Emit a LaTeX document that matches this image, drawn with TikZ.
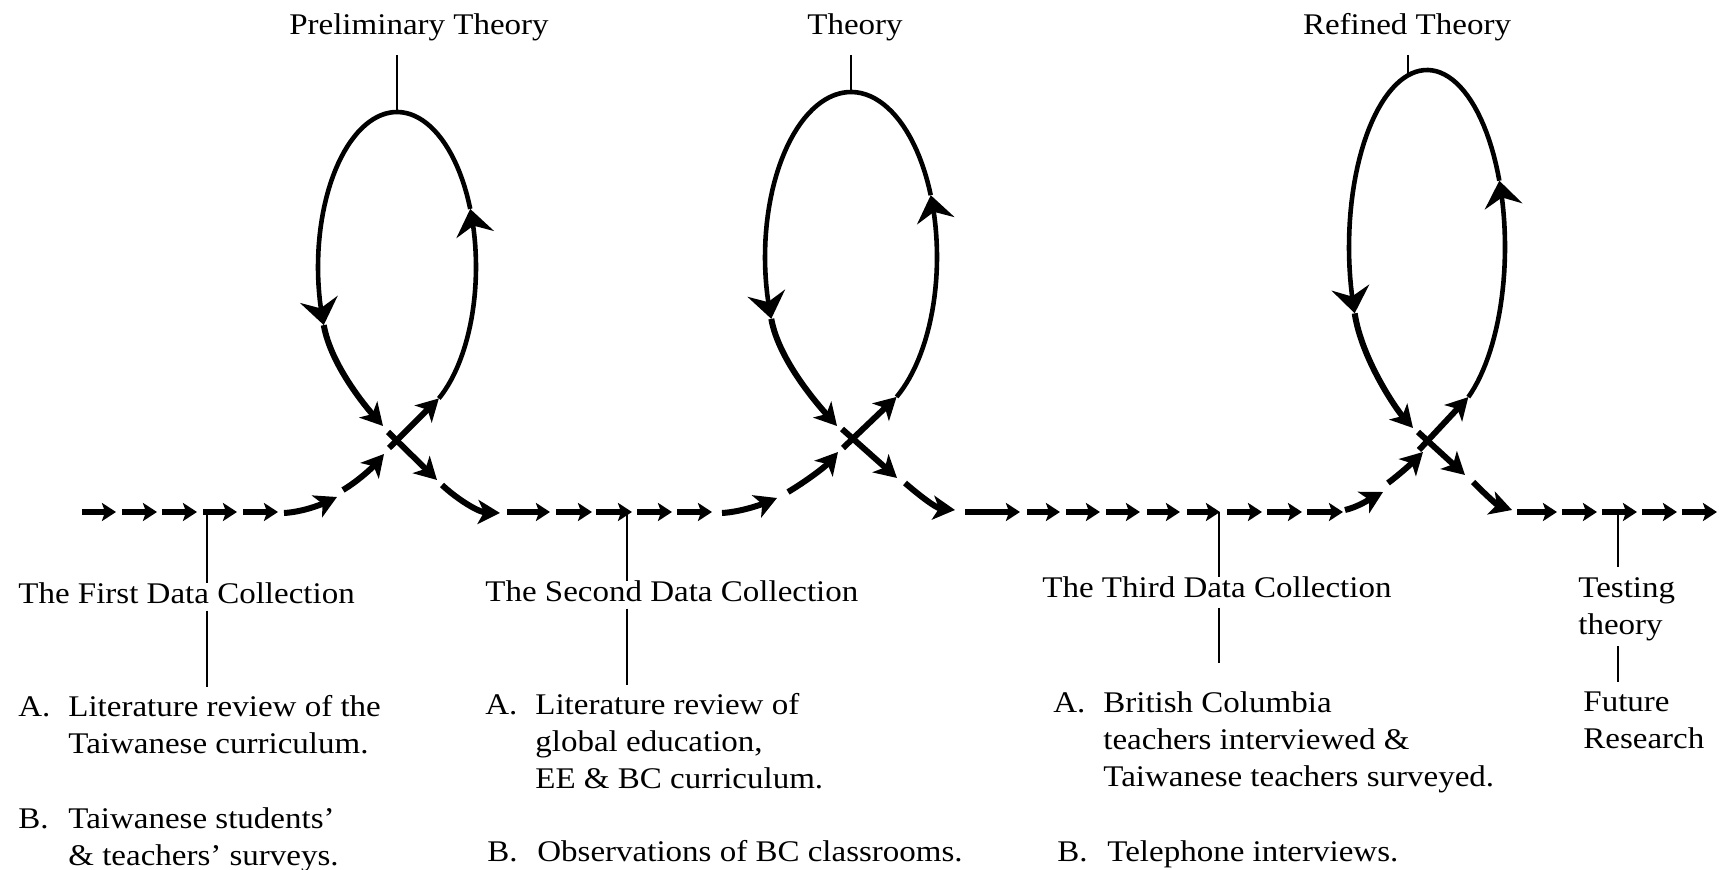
\documentclass[tikz,border=0pt]{standalone}
\usepackage{fontspec}
\setmainfont{Liberation Serif}[FakeStretch=1.1]
\usetikzlibrary{arrows.meta}

\tikzset{
  flow/.style={line width=2.6pt, -{Stealth[length=7pt, width=9pt, inset=1.5pt]}},
  swing/.style={line width=3pt, -{Stealth[length=11pt, width=12pt, inset=3pt]}},
  ring/.style={line width=2.3pt, -{Stealth[length=13pt, width=19pt, inset=4.5pt]}},
  tick/.style={line width=1pt},
  lab/.style={inner sep=0pt, font=\fontsize{15}{18.5}\selectfont},
}

% item with letter and hanging text
\newcommand{\entry}[2]{\begin{tabular}[t]{@{}p{25pt}@{}l@{}}#1 & #2\end{tabular}}
\newcommand{\stack}[1]{\begin{tabular}[t]{@{}l@{}}#1\end{tabular}}

% theory loop: centre x, centre y, half width, half height
\newcommand{\theoryloop}[4]{%
  \pgfmathsetmacro{\loopbot}{#2+#4}
  \draw[swing] ({#1-8},{\loopbot+26}) -- ({#1+#3*cos(-58)},{#2-#4*sin(-58)});
  \draw[ring] plot[domain=-58:22, samples=30, variable=\t] ({#1+#3*cos(\t)},{#2-#4*sin(\t)});
  \draw[ring] plot[domain=22:202, samples=60, variable=\t] ({#1+#3*cos(\t)},{#2-#4*sin(\t)});
  \draw[swing] ({#1-0.927*#3},{#2+0.375*#4}) .. controls ({#1-0.84*#3},{#2+0.63*#4})
      and ({#1-31},{\loopbot-15}) .. ({#1-14},{\loopbot+4});
}

\begin{document}
\begin{tikzpicture}[x=0.5pt, y=-0.5pt]
    \useasboundingbox (0,0) rectangle (1719,870);
    % tops of the loops and ticks on the line
    \coordinate (top1) at (397,112);
    \coordinate (top2) at (851,92);
    \coordinate (top3) at (1408,75);
    \coordinate (b1) at (207,512);
    \coordinate (b2) at (627,512);
    \coordinate (b3) at (1219,512);
    \coordinate (b4) at (1618,512);
    % Straight parts of the line
    \foreach \a/\b in {82/116, 122/157, 162/197, 203/237, 243/278,
                       507/550, 556/592, 596/632, 637/672, 677/712,
                       965/1020, 1027/1060, 1066/1100, 1106/1140, 1147/1180,
                       1187/1220, 1227/1262, 1267/1302, 1307/1343,
                       1517/1557, 1562/1597, 1602/1637, 1642/1677, 1682/1717}
        \draw[flow] (\a,512) -- (\b,512);
    % Loop 1
    \draw[swing] (284,513) .. controls (302,512) and (320,505) .. (337,497);
    \draw[swing] (343,490) .. controls (358,481) and (372,468) .. (384,454);
    \theoryloop{397}{267}{79}{155}
    \draw[swing] (388,432) -- (437,480);
    \draw[swing] (442,485) .. controls (457,499) and (478,512) .. (500,513);
    % Loop 2
    \draw[swing] (722,513) .. controls (740,512) and (760,505) .. (777,498);
    \draw[swing] (788,492) .. controls (805,482) and (825,467) .. (838,452);
    \theoryloop{851}{257}{86}{165}
    \draw[swing] (842,429) -- (897,478);
    \draw[swing] (905,483) .. controls (920,496) and (936,508) .. (955,510);
    % Loop 3
    \draw[swing] (1345,510) .. controls (1358,507) and (1370,499) .. (1383,492);
    \draw[swing] (1388,483) .. controls (1400,474) and (1412,463) .. (1423,452);
    \theoryloop{1427}{247}{78}{177}
    \draw[swing] (1418,432) -- (1465,475);
    \draw[swing] (1473,482) .. controls (1486,495) and (1497,505) .. (1512,510);
    % Theories on top
    \node[lab, anchor=base] (prelim) at (419,35) {Preliminary Theory};
    \node[lab, anchor=base] (theory) at (855,35) {Theory};
    \node[lab, anchor=base] (refined) at (1407,35) {Refined Theory};
    \draw[tick, shorten <=6.5pt] (prelim.south -| top1) -- (top1);
    \draw[tick, shorten <=6.5pt] (theory.south -| top2) -- (top2);
    \draw[tick, shorten <=6.5pt] (refined.south -| top3) -- (top3);
    % The first data collection
    \node[lab, anchor=base west] (first) at (18,604) {The First Data Collection};
    \node[lab, anchor=base west] (firstA) at (18,717)
        {\entry{A.}{Literature review of the\\ & Taiwanese curriculum.}};
    \node[lab, anchor=base west] (firstB) at (18,828)
        {\entry{B.}{Taiwanese students'\\ & \& teachers' surveys.}};
    \draw[tick] (b1) -- (b1 |- first.north);
    \draw[tick, shorten <=3pt, shorten >=2pt] (b1 |- first.south) -- (b1 |- firstA.north);
    % The second data collection
    \node[lab, anchor=base west] (second) at (485,602) {The Second Data Collection};
    \node[lab, anchor=base west] (secondA) at (485,715)
        {\entry{A.}{Literature review of\\ & global education,\\ & EE \& BC curriculum.}};
    \node[lab, anchor=base west] (secondB) at (487,862)
        {\entry{B.}{Observations of BC classrooms.}};
    \draw[tick] (b2) -- (b2 |- second.north);
    \draw[tick, shorten <=3pt, shorten >=2pt] (b2 |- second.south) -- (b2 |- secondA.north);
    % The third data collection
    \node[lab, anchor=base west] (third) at (1042,598) {The Third Data Collection};
    \node[lab, anchor=base west] (thirdA) at (1053,713)
        {\entry{A.}{British Columbia\\ & teachers interviewed \&\\ & Taiwanese teachers surveyed.}};
    \node[lab, anchor=base west] (thirdB) at (1057,862)
        {\entry{B.}{Telephone interviews.}};
    \draw[tick] (b3) -- (b3 |- third.north);
    \draw[tick, shorten <=4.5pt, shorten >=12pt] (b3 |- third.south) -- (b3 |- thirdA.north);
    % Testing theory
    \node[lab, anchor=base west] (testing) at (1578,598) {\stack{Testing\\theory}};
    \node[lab, anchor=base west] (future) at (1583,712) {\stack{Future\\Research}};
    \draw[tick, shorten >=2.5pt] (b4) -- (b4 |- testing.north);
    \draw[tick, shorten >=2pt] (b4 |- testing.south) -- (b4 |- future.north);
\end{tikzpicture}
\end{document}
